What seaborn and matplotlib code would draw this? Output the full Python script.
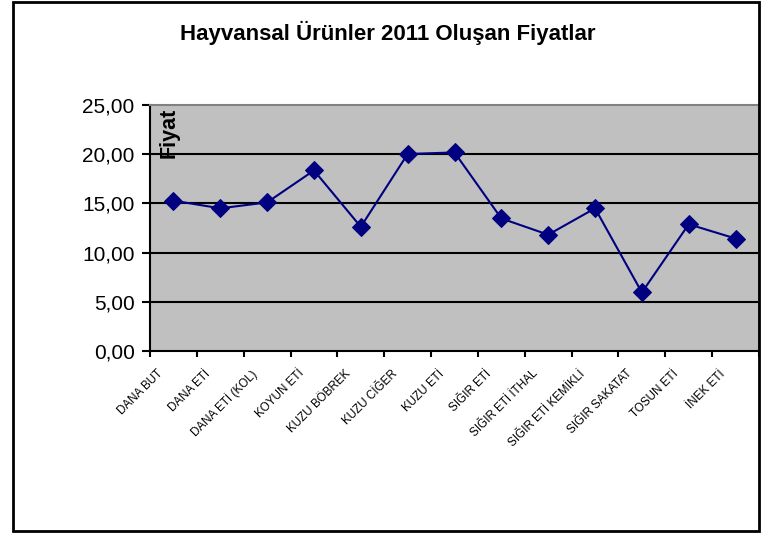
import matplotlib
matplotlib.use("Agg")
import matplotlib.pyplot as plt
import matplotlib.transforms as mtransforms
import seaborn as sns
import numpy as np
import pandas as pd
from matplotlib.patches import Rectangle
from matplotlib.ticker import FuncFormatter, FixedLocator, NullFormatter

categories = ["DANA BUT", "DANA ETİ", "DANA ETİ (KOL)", "KOYUN ETİ", "KUZU BÖBREK",
              "KUZU CİĞER", "KUZU ETİ", "SIĞIR ETİ", "SIĞIR ETİ İTHAL",
              "SIĞIR ETİ KEMİKLİ", "SIĞIR SAKATAT", "TOSUN ETİ", "İNEK ETİ"]
prices = [15.28, 14.50, 15.10, 18.35, 12.62, 20.02, 20.18, 13.47, 11.82,
          14.50, 5.95, 12.88, 11.43]
y_ticks = [0, 5, 10, 15, 20, 25]
title = "Hayvansal Ürünler 2011 Oluşan Fiyatlar"
ylabel = "Fiyat"

sns.set_theme(style="white")
plt.rcParams['font.family'] = ['Liberation Sans', 'DejaVu Sans']
plt.rcParams['text.color'] = 'black'
plt.rcParams['xtick.color'] = 'black'
plt.rcParams['ytick.color'] = 'black'

df = pd.DataFrame({"pos": np.arange(len(categories)), "price": prices})

fig = plt.figure(figsize=(7.62, 5.33), dpi=100)
ax = fig.add_axes([150/762, 1-351/533, 609/762, 246/533])
ax.set_facecolor("#c0c0c0")

sns.lineplot(data=df, x="pos", y="price", ax=ax, sort=False, color="#000080",
             linewidth=1.5, marker="D", markersize=9.5, markeredgecolor="#000080",
             markerfacecolor="#000080", zorder=5)

ax.set_xlim(-0.5, len(categories) - 0.5)
ax.set_ylim(0, 25)
ax.set_yticks(y_ticks)
ax.yaxis.set_major_formatter(FuncFormatter(lambda v, p: f"{v:.2f}".replace(".", ",")))
for v in y_ticks[1:-1]:
    ax.axhline(v, color="black", linewidth=1.5, zorder=1)

# category tick labels (rotated, anchored at their end, left of category centre)
ax.set_xticks(np.arange(len(categories)))
ax.xaxis.set_major_formatter(NullFormatter())
label_tr = ax.get_xaxis_transform() + mtransforms.ScaledTranslation(-12/100, -21/100, fig.dpi_scale_trans)
for i, name in enumerate(categories):
    ax.text(i, 0, name, transform=label_tr, rotation=45, ha="right", va="center",
            rotation_mode="anchor", fontsize=8.4, clip_on=False)

ax.xaxis.set_minor_locator(FixedLocator(np.arange(-0.5, len(categories), 1.0)))
ax.tick_params(axis="x", which="major", length=0)
ax.tick_params(axis="x", which="minor", length=4, width=1.5, color="black", direction="out", bottom=True)
ax.tick_params(axis="y", which="major", length=6, width=1.5, color="black", direction="out",
               left=True, labelsize=15, pad=5)

ax.set_xlabel("")
ax.set_ylabel("")
for s in ["left", "bottom"]:
    ax.spines[s].set_color("black")
    ax.spines[s].set_linewidth(1.5)
for s in ["top", "right"]:
    ax.spines[s].set_color("#808080")
    ax.spines[s].set_linewidth(1.5)

ax.text(0.014, 0.99, ylabel, transform=ax.transAxes, rotation=90, fontsize=15.5,
        fontweight="bold", ha="left", va="top")

fig.text(388/762, 1-33/533, title, fontsize=16, fontweight="bold", ha="center", va="center")

fig.patches.append(Rectangle((13/762, 2/533), (759-13)/762, (531-2)/533,
                             transform=fig.transFigure, fill=False, edgecolor="black",
                             linewidth=2, zorder=10))

fig.savefig("out.png", dpi=100)
